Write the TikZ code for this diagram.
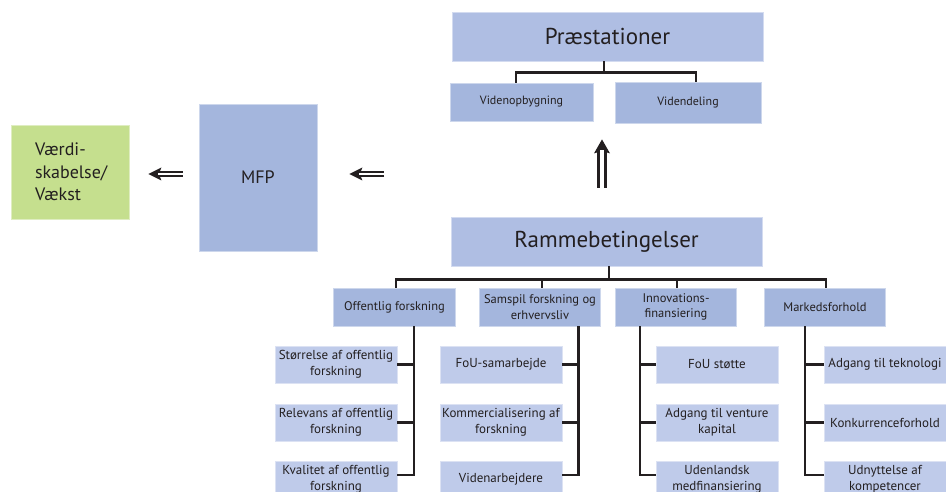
\documentclass[tikz,border=0pt]{standalone}
\usepackage{fontspec}
\setmainfont{PT Sans}
\usetikzlibrary{arrows.meta}
\definecolor{bigblue}{RGB}{175,190,227}
\definecolor{midblue}{RGB}{164,182,221}
\definecolor{subblue}{RGB}{191,203,234}
\definecolor{growgreen}{RGB}{197,223,142}
\definecolor{ink}{RGB}{35,31,32}
\tikzset{
    box/.style={fill=#1, draw=#1!55!white, line width=0.8pt, inner sep=0pt, align=center, text=ink},
    bigbox/.style={box=bigblue, minimum width=311pt, minimum height=49pt, font=\fontsize{23}{27}\selectfont},
    midbox/.style={box=midblue, font=\fontsize{12}{15}\selectfont},
    tierbox/.style={box=midblue, minimum width=121.5pt, minimum height=38pt, font=\fontsize{12.5}{15.5}\selectfont},
    subbox/.style={box=subblue, minimum width=122pt, minimum height=37pt, font=\fontsize{13}{15.7}\selectfont},
    conn/.style={draw=ink, line width=2.7pt},
    sidearrow/.style={draw=ink, line width=6.5pt, -{Stealth[length=13pt,width=13pt,inset=2.5pt,line width=0pt]}},
    uparrow/.style={draw=ink, line width=9.5pt, -{Stealth[length=14pt,width=16pt,inset=2.5pt,line width=0pt]}},
    arrowgap/.style={draw=white, line width=#1}
}
\begin{document}
\begin{tikzpicture}[x=1pt,y=-1pt]
    \useasboundingbox (0,0) rectangle (946,492);
    \clip (0,0) rectangle (946,492);
    \node [box=growgreen, minimum height=94pt, text width=70pt, inner xsep=24pt, align=left, font=\fontsize{18}{22.5}\selectfont] (vaerdi) at (70,172) {Værdi-\\skabelse/\\Vækst};
    \node [midbox, minimum width=118pt, minimum height=147pt, font=\fontsize{18}{22}\selectfont] (mfp) at (258,177.5) {MFP};
    \node [bigbox] (praest) at (607.5,36.5) {Præstationer};
    \node [midbox, minimum width=143pt, minimum height=38pt] (vopb) at (521.5,102) {Videnopbygning};
    \node [midbox, minimum width=146pt, minimum height=41pt] (vdel) at (688,102.5) {Videndeling};
    \node [bigbox] (ramme) at (606.5,241.5) {Rammebetingelser};
    \node [tierbox] (off) at (394.5,307) {Offentlig forskning};
    \node [tierbox] (sam) at (540,307) {Samspil forskning og\\erhvervsliv};
    \node [tierbox] (inn) at (676,307) {Innovations-\\finansiering};
    \node [tierbox] (mar) at (825,307) {Markedsforhold};
    \node [subbox] (o1) at (336,364.5) {Størrelse af offentlig\\forskning};
    \node [subbox] (o2) at (336,422.5) {Relevans af offentlig\\forskning};
    \node [subbox] (o3) at (336,479.5) {Kvalitet af offentlig\\forskning};
    \node [subbox] (s1) at (501,364.5) {FoU-samarbejde};
    \node [subbox] (s2) at (501,422.5) {Kommercialisering af\\forskning};
    \node [subbox] (s3) at (501,479.5) {Videnarbejdere};
    \node [subbox] (i1) at (717,364.5) {FoU støtte};
    \node [subbox] (i2) at (717,422.5) {Adgang til venture\\kapital};
    \node [subbox] (i3) at (717,479.5) {Udenlandsk\\medfinansiering};
    \node [subbox] (m1) at (885,364.5) {Adgang til teknologi};
    \node [subbox] (m2) at (885,422.5) {Konkurrenceforhold};
    \node [subbox] (m3) at (885,479.5) {Udnyttelse af\\kompetencer};
    \coordinate (rammein) at (384,174);
    \draw [sidearrow, shorten <=16pt, shorten >=19pt] (mfp.west |- rammein) -- (vaerdi.east |- rammein);
    \draw [arrowgap=1.6pt, shorten <=15pt, shorten >=29pt] (mfp.west |- rammein) -- (vaerdi.east |- rammein);
    \draw [sidearrow, shorten >=32pt] (rammein) -- (rammein -| mfp.east);
    \draw [arrowgap=1.6pt, shorten <=-1pt, shorten >=42pt] (rammein) -- (rammein -| mfp.east);
    \draw [uparrow, shorten <=29pt, shorten >=18pt] ([xshift=-4.5pt]ramme.north) -- ([xshift=-4.5pt]ramme.north |- vopb.south);
    \draw [arrowgap=3.5pt, shorten <=28pt, shorten >=29pt] ([xshift=-4.5pt]ramme.north) -- ([xshift=-4.5pt]ramme.north |- vopb.south);
    \draw [conn] ([xshift=-3.5pt]praest.south) -- ++(0,11) -| ([xshift=-5.5pt]vopb.north);
    \draw [conn] ([xshift=-3.5pt]praest.south) -- ++(0,11) -| ([xshift=8pt]vdel.north);
    \draw [conn] ([xshift=2.5pt]ramme.south) -- ++(0,13) -| ([xshift=1.5pt]off.north);
    \draw [conn] ([xshift=2.5pt]ramme.south) -- ++(0,13) -| ([xshift=2pt]sam.north);
    \draw [conn] ([xshift=2.5pt]ramme.south) -- ++(0,13) -| ([xshift=1pt]inn.north);
    \draw [conn] ([xshift=2.5pt]ramme.south) -- ++(0,13) -| ([xshift=1pt]mar.north);
    \coordinate (offspine) at ([xshift=19.5pt]off.south);
    \coordinate (samspine) at ([xshift=38.5pt]sam.south);
    \coordinate (innspine) at ([xshift=-36pt]inn.south);
    \coordinate (marspine) at ([xshift=-20pt]mar.south);
    \draw [conn] (offspine) |- ([yshift=4.5pt]o3.east);
    \draw [conn] (o1.east) -- (o1.east -| offspine);
    \draw [conn] (o2.east) -- (o2.east -| offspine);
    \draw [conn] (samspine) |- ([yshift=4.5pt]s3.east);
    \draw [conn] (s1.east) -- (s1.east -| samspine);
    \draw [conn] (s2.east) -- (s2.east -| samspine);
    \draw [conn] (innspine) |- ([yshift=4.5pt]i3.west);
    \draw [conn] (i1.west) -- (i1.west -| innspine);
    \draw [conn] (i2.west) -- (i2.west -| innspine);
    \draw [conn] (marspine) |- ([yshift=4.5pt]m3.west);
    \draw [conn] (m1.west) -- (m1.west -| marspine);
    \draw [conn] (m2.west) -- (m2.west -| marspine);
\end{tikzpicture}
\end{document}
